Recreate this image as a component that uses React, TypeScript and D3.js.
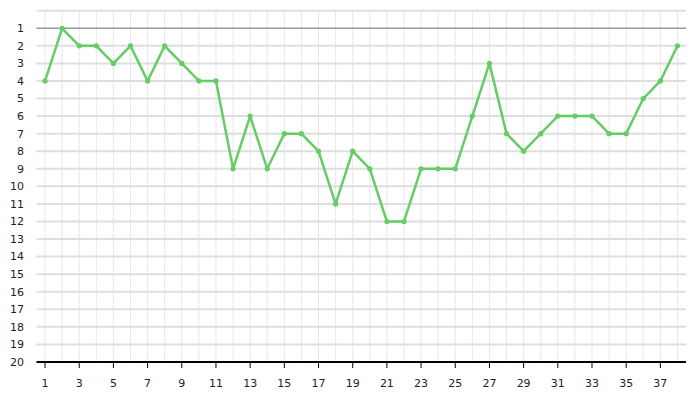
import React from "react";
import * as d3 from "d3";

const positions: number[] = [4, 1, 2, 2, 3, 2, 4, 2, 3, 4, 4, 9, 6, 9, 7, 7, 8, 11, 8, 9, 12, 12, 9, 9, 9, 6, 3, 7, 8, 7, 6, 6, 6, 7, 7, 5, 4, 2];
const rounds: number[] = positions.map((_, i) => i + 1);
const yTicks: number[] = d3.range(1, 21);
const xTickLabels: number[] = rounds.filter((r) => r % 2 === 1);

export default function App() {
  const W = 699, H = 400;
  const x = d3.scaleLinear().domain([0.5, 38.5]).range([36.5, 686]);
  const y = d3.scaleLinear().domain([0, 20]).range([10.7, 362]);
  const line = d3.line<number>().x((_, i) => x(rounds[i])).y((d) => y(d));
  const font = "'DejaVu Sans', Verdana, sans-serif";
  return (
    <svg width={W} height={H} style={{ position: "absolute", left: 0, top: 0 }}>
      <rect width={W} height={H} fill="#fff" />
      {/* vertical dotted grid */}
      {rounds.map((r) => (
        <line key={"v" + r} x1={x(r)} x2={x(r)} y1={y(0)} y2={y(20)} stroke="#cfcfcf" strokeWidth={1} strokeDasharray="1,1" />
      ))}
      {/* horizontal grid */}
      {[0, ...yTicks].filter((v) => v !== 1 && v !== 20).map((v) => (
        <line key={"h" + v} x1={x(0.5)} x2={x(38.5)} y1={y(v)} y2={y(v)} stroke="#dedede" strokeWidth={2} />
      ))}
      <line x1={x(0.5)} x2={x(38.5)} y1={y(1)} y2={y(1)} stroke="#9a9a9a" strokeWidth={1.5} />
      {/* y labels */}
      {yTicks.map((v) => (
        <text key={"yl" + v} x={24} y={y(v)} dy="0.35em" textAnchor="end" fontFamily={font} fontSize={11} fill="#222">{v}</text>
      ))}
      {/* bottom axis */}
      <line x1={x(0.5)} x2={x(38.5)} y1={y(20)} y2={y(20)} stroke="#000" strokeWidth={2} />
      {xTickLabels.map((r) => (
        <g key={"xt" + r}>
          <line x1={x(r)} x2={x(r)} y1={y(20)} y2={y(20) + 6} stroke="#000" strokeWidth={1} />
          <text x={x(r)} y={387} textAnchor="middle" fontFamily={font} fontSize={11} fill="#222">{r}</text>
        </g>
      ))}
      {/* series */}
      <path d={line(positions) || ""} fill="none" stroke="#66cc66" strokeWidth={2.5} strokeLinejoin="round" />
      {positions.map((p, i) => (
        <circle key={"c" + i} cx={x(rounds[i])} cy={y(p)} r={2.6} fill="#66cc66" />
      ))}
    </svg>
  );
}
